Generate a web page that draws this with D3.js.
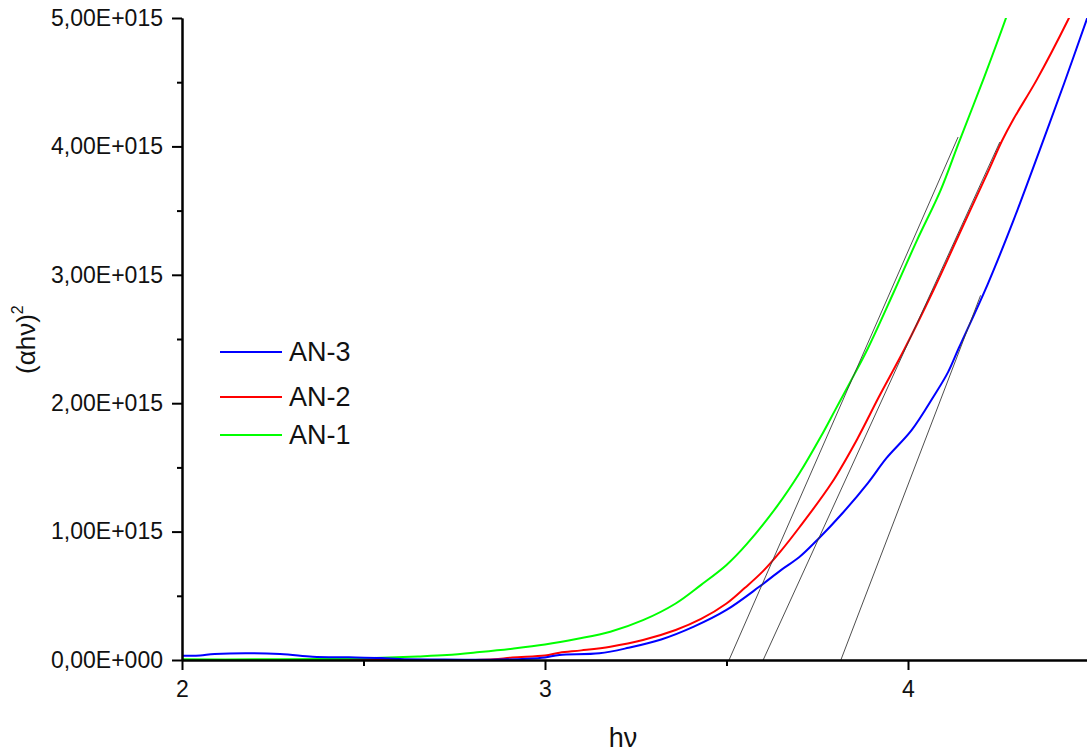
<!DOCTYPE html>
<html>
<head>
<meta charset="utf-8">
<script src="https://cdn.jsdelivr.net/npm/d3@7"></script>
<style>
  html, body { margin: 0; padding: 0; background: #fff; }
  svg { display: block; font-family: "Liberation Sans", Arial, sans-serif; }
</style>
</head>
<body>
<svg id="chart" width="1087" height="754"></svg>
<script>
// Photon energy hν (eV) and (αhν)² in units of 1E+015 for each sample
const hvAN1 = [2.00, 2.20, 2.40, 2.55, 2.65, 2.73, 2.82, 2.91, 3.00, 3.09, 3.18, 3.27, 3.36, 3.43, 3.50,
               3.555, 3.64, 3.70, 3.76, 3.80, 3.84, 3.89, 3.96, 4.025, 4.09, 4.14, 4.21, 4.27, 4.30];
const valAN1 = [0.005, 0.005, 0.008, 0.018, 0.028, 0.039, 0.062, 0.088, 0.12, 0.165, 0.22, 0.31, 0.44, 0.585, 0.74,
                0.90, 1.20, 1.45, 1.74, 1.95, 2.16, 2.43, 2.86, 3.27, 3.66, 4.03, 4.54, 5.0, 5.25];

const hvAN2 = [2.00, 2.40, 2.80, 2.86, 2.91, 3.00, 3.04, 3.10, 3.18, 3.27, 3.36, 3.43, 3.50, 3.55, 3.60,
               3.65, 3.70, 3.79, 3.86, 3.92, 3.99, 4.07, 4.14, 4.22, 4.26, 4.29, 4.355, 4.44, 4.46];
const valAN2 = [0.0, 0.0, 0.0, 0.005, 0.02, 0.035, 0.057, 0.075, 0.104, 0.156, 0.234, 0.32, 0.44, 0.56, 0.69,
                0.85, 1.03, 1.38, 1.72, 2.05, 2.42, 2.88, 3.31, 3.80, 4.05, 4.21, 4.52, 4.98, 5.10];

const hvAN3 = [2.00, 2.05, 2.09, 2.27, 2.36, 2.46, 2.55, 2.60, 2.70, 2.85, 2.95, 3.00, 3.04, 3.15, 3.23,
               3.32, 3.41, 3.50, 3.59, 3.65, 3.70, 3.75, 3.82, 3.89, 3.94, 4.01, 4.07, 4.11, 4.14,
               4.22, 4.29, 4.36, 4.43, 4.495];
const valAN3 = [0.034, 0.035, 0.047, 0.047, 0.026, 0.021, 0.015, 0.008, 0.004, 0.002, 0.01, 0.02, 0.039, 0.052, 0.095,
                0.16, 0.26, 0.39, 0.57, 0.70, 0.80, 0.935, 1.145, 1.38, 1.57, 1.79, 2.05, 2.24, 2.43,
                2.93, 3.42, 3.95, 4.49, 5.01];

// Linear extrapolations of the absorption edges: [hν start, value start, hν end, value end]
const tangentAN1 = [3.507, 0, 4.138, 4.073];
const tangentAN2 = [3.601, 0, 4.253, 4.034];
const tangentAN3 = [3.815, 0, 4.20, 2.84];

const seriesNames = ["AN-3", "AN-2", "AN-1"];
const seriesColors = ["#0000ff", "#ff0000", "#00ff00"];

const xMajorTicks = [2, 3, 4];
const xMinorTicks = [2.5, 3.5, 4.5];
const yMajorTicks = [0, 1, 2, 3, 4, 5];
const yMinorTicks = [0.5, 1.5, 2.5, 3.5, 4.5];
const yTickLabels = ["0,00E+000", "1,00E+015", "2,00E+015", "3,00E+015", "4,00E+015", "5,00E+015"];

const svg = d3.select("#chart");

const x = d3.scaleLinear().domain([2, 4.5]).range([182, 1089.5]);
const y = d3.scaleLinear().domain([0, 5]).range([660, 18]);

svg.append("defs").append("clipPath").attr("id", "plot-clip")
  .append("rect").attr("x", 182).attr("y", 18).attr("width", 910).attr("height", 642);

const plot = svg.append("g").attr("clip-path", "url(#plot-clip)");

const line = d3.line().x(d => x(d[0])).y(d => y(d[1])).curve(d3.curveCatmullRom.alpha(0.5));

const series = [
  { hv: hvAN2, val: valAN2, color: seriesColors[1] },
  { hv: hvAN1, val: valAN1, color: seriesColors[2] },
  { hv: hvAN3, val: valAN3, color: seriesColors[0] }
];

series.forEach(s => {
  plot.append("path")
    .datum(s.hv.map((h, i) => [h, s.val[i]]))
    .attr("fill", "none")
    .attr("stroke", s.color)
    .attr("stroke-width", 2)
    .attr("stroke-linejoin", "round")
    .attr("d", line);
});

// Edge extrapolation lines
[tangentAN1, tangentAN2, tangentAN3].forEach(t => {
  plot.append("line")
    .attr("x1", x(t[0])).attr("y1", y(t[1]))
    .attr("x2", x(t[2])).attr("y2", y(t[3]))
    .attr("stroke", "#3a3a3a")
    .attr("stroke-width", 0.9);
});

// Axes
const xAxis = d3.axisBottom(x).tickValues(xMajorTicks).tickSize(10).tickSizeOuter(0).tickPadding(11)
  .tickFormat(d3.format("d"));
const xMinor = d3.axisBottom(x).tickValues(xMinorTicks).tickSize(6).tickSizeOuter(0).tickFormat("");
const yAxis = d3.axisLeft(y).tickValues(yMajorTicks).tickSize(10).tickSizeOuter(0).tickPadding(9)
  .tickFormat((d, i) => yTickLabels[i]);
const yMinor = d3.axisLeft(y).tickValues(yMinorTicks).tickSize(5).tickSizeOuter(0).tickFormat("");

function styleAxis(g) {
  g.attr("font-size", null).attr("font-family", null);
  g.selectAll("path.domain").attr("stroke", "#000").attr("stroke-width", 2);
  g.selectAll(".tick line").attr("stroke", "#000").attr("stroke-width", 2);
  g.selectAll(".tick text")
    .attr("fill", "#111")
    .style("font-family", "Liberation Sans, Arial, sans-serif")
    .style("font-size", "23px");
}

svg.append("g").attr("transform", "translate(0,660)").call(xMinor).call(styleAxis);
svg.append("g").attr("transform", "translate(0,660)").call(xAxis).call(styleAxis);
svg.append("g").attr("transform", "translate(182,0)").call(yMinor).call(styleAxis);
svg.append("g").attr("transform", "translate(182,0)").call(yAxis).call(styleAxis);

// Axis titles
svg.append("text")
  .attr("x", 623).attr("y", 747)
  .attr("text-anchor", "middle")
  .style("font-size", "27px").attr("fill", "#111")
  .text("hν");

const yTitle = svg.append("text")
  .attr("transform", "translate(35,374) rotate(-90)")
  .attr("text-anchor", "start")
  .style("font-size", "26px").attr("fill", "#111");
yTitle.append("tspan").text("(αhν)");
yTitle.append("tspan").attr("dy", -12).style("font-size", "16px").text("2");

// Legend
const legendRows = [352, 397, 435];
const legend = svg.append("g");
seriesNames.forEach((name, i) => {
  legend.append("line")
    .attr("x1", 220).attr("x2", 282)
    .attr("y1", legendRows[i]).attr("y2", legendRows[i])
    .attr("stroke", seriesColors[i]).attr("stroke-width", 2);
  legend.append("text")
    .attr("x", 289).attr("y", legendRows[i] + 9)
    .style("font-size", "27px").attr("fill", "#111")
    .text(name);
});
</script>
</body>
</html>
